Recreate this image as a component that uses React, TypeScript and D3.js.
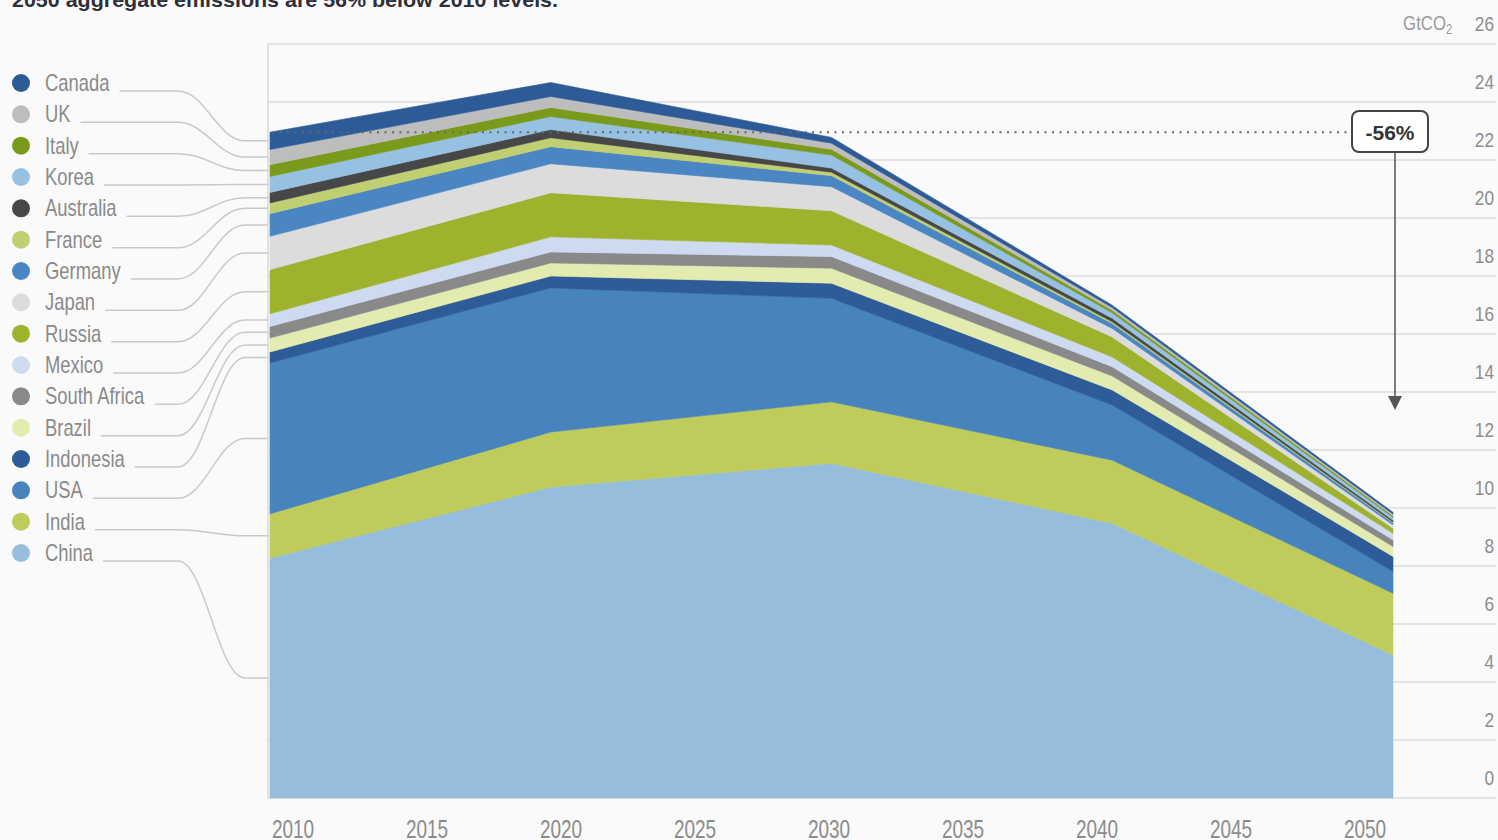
import React, { useEffect } from 'react';
import * as d3 from 'd3';

// ---------- data ----------
const years = [2010, 2020, 2030, 2040, 2050];
// stacking order: bottom -> top
const countries = ['China', 'India', 'USA', 'Indonesia', 'Brazil', 'South Africa', 'Mexico', 'Russia', 'Japan', 'Germany', 'France', 'Australia', 'Korea', 'Italy', 'UK', 'Canada'];
const china = [8.28, 10.72, 11.54, 9.47, 4.93];
const india = [1.52, 1.9, 2.12, 2.18, 2.13];
const usa = [5.2, 4.97, 3.57, 1.9, 0.75];
const indonesia = [0.38, 0.41, 0.52, 0.52, 0.52];
const brazil = [0.48, 0.45, 0.52, 0.48, 0.34];
const southAfrica = [0.4, 0.38, 0.4, 0.32, 0.23];
const mexico = [0.44, 0.52, 0.4, 0.34, 0.23];
const russia = [1.52, 1.52, 1.18, 0.69, 0.17];
const japan = [1.15, 1.0, 0.83, 0.29, 0.12];
const germany = [0.78, 0.59, 0.38, 0.17, 0.07];
const france = [0.37, 0.31, 0.12, 0.06, 0.03];
const australia = [0.36, 0.28, 0.14, 0.12, 0.06];
const korea = [0.55, 0.45, 0.45, 0.19, 0.1];
const italy = [0.41, 0.31, 0.2, 0.09, 0.05];
const uk = [0.52, 0.38, 0.21, 0.09, 0.06];
const canada = [0.6, 0.48, 0.2, 0.08, 0.06];
const colors = ['#96bddc', '#bfcc5b', '#4783bd', '#2d5c99', '#e4ebb0', '#898989', '#cddaf0', '#9fb22e', '#dcdcdc', '#4a86c3', '#bfcf72', '#474747', '#96c1e3', '#7a9a1c', '#bdbdbd', '#2c5b97'];
const yTicks = [0, 2, 4, 6, 8, 10, 12, 14, 16, 18, 20, 22, 24, 26];
const xTickYears = [2010, 2015, 2020, 2025, 2030, 2035, 2040, 2045, 2050];
const title = '2050 aggregate emissions are 56% below 2010 levels.';
const changeLabel = '-56%';

const seriesValues: Record<string, number[]> = {
  China: china, India: india, USA: usa, Indonesia: indonesia, Brazil: brazil,
  'South Africa': southAfrica, Mexico: mexico, Russia: russia, Japan: japan,
  Germany: germany, France: france, Australia: australia, Korea: korea,
  Italy: italy, UK: uk, Canada: canada,
};

const W = 1498;
const H = 840;
const FONT = '"Liberation Sans", Arial, Helvetica, sans-serif';
const LEG_SIZE = 23;
const LEG_SX = 0.8;

export default function App() {
  useEffect(() => {
    document.body.style.margin = '0';
    document.body.style.overflow = 'hidden';
  }, []);

  const rows = years.map((yr, i) => {
    const r: any = { year: yr };
    countries.forEach((c) => (r[c] = seriesValues[c][i]));
    return r;
  });
  const stacked = d3.stack<any>().keys(countries)(rows);

  const x = d3.scaleLinear().domain([2010, 2050]).range([270, 1393]);
  const xLab = d3.scaleLinear().domain([2010, 2050]).range([293, 1365]);
  const y = d3.scaleLinear().domain([0, 26]).range([798, 44]);

  const area = d3
    .area<any>()
    .x((d) => x(d.data.year))
    .y0((d) => y(d[0]))
    .y1((d) => y(d[1]))
    .curve(d3.curveLinear);

  const total2010 = d3.sum(countries, (c) => seriesValues[c][0]);
  const yRef = y(total2010);

  // text measuring for leader lines
  let ctx: CanvasRenderingContext2D | null = null;
  try {
    ctx = document.createElement('canvas').getContext('2d');
    if (ctx) ctx.font = `${LEG_SIZE}px ${FONT}`;
  } catch (e) {
    ctx = null;
  }
  const measure = (s: string) => (ctx ? ctx.measureText(s).width : s.length * LEG_SIZE * 0.5) * LEG_SX;

  const legendItems = countries
    .map((c, i) => ({ name: c, color: colors[i], layer: stacked[i] }))
    .reverse();
  const legY = d3.scaleLinear().domain([0, legendItems.length - 1]).range([83, 553]);

  return (
    <svg width={W} height={H} style={{ position: 'absolute', left: 0, top: 0, display: 'block' }}>
      <rect x={0} y={0} width={W} height={H} fill="#fafafa" />

      {/* title (cropped at top) */}
      <text x={12} y={7} fontFamily={FONT} fontWeight="bold" fontSize={21} fill="#2f2f3a" textLength={546} lengthAdjust="spacingAndGlyphs">
        {title}
      </text>

      {/* gridlines */}
      {yTicks.map((t) => (
        <line key={'g' + t} x1={268} x2={1496} y1={y(t)} y2={y(t)} stroke="#dcdcdc" strokeWidth={1.5} />
      ))}
      <line x1={268} x2={268} y1={y(26)} y2={y(0)} stroke="#d0d0d0" strokeWidth={1.2} />

      {/* stacked areas */}
      {stacked.map((layer, i) => (
        <path key={countries[i]} d={area(layer) || ''} fill={colors[i]} stroke={colors[i]} strokeWidth={0.6} />
      ))}

      {/* 2010 reference dotted line */}
      <line x1={272} x2={1352} y1={yRef} y2={yRef} stroke="#666" strokeWidth={2} strokeDasharray="2 5.5" />

      {/* arrow */}
      <line x1={1395} x2={1395} y1={152} y2={398} stroke="#555" strokeWidth={1.5} />
      <path d={`M1388,396 L1402,396 L1395,410 Z`} fill="#555" />

      {/* -56% box */}
      <rect x={1352} y={111} width={76} height={41} rx={7} ry={7} fill="#ffffff" stroke="#444" strokeWidth={2} />
      <text x={1390} y={140} textAnchor="middle" fontFamily={FONT} fontWeight="bold" fontSize={21} fill="#333">
        {changeLabel}
      </text>

      {/* unit label */}
      <g transform={`translate(1446,30) scale(0.8,1)`}>
        <text textAnchor="end" fontFamily={FONT} fontSize={21} fill="#9a9a9a">
          GtCO
        </text>
      </g>
      <g transform={`translate(1446,34) scale(0.8,1)`}>
        <text fontFamily={FONT} fontSize={14} fill="#9a9a9a">
          2
        </text>
      </g>

      {/* y tick labels */}
      {yTicks.map((t) => (
        <g key={'yl' + t} transform={`translate(1494,${y(t) - 13}) scale(0.82,1)`}>
          <text textAnchor="end" fontFamily={FONT} fontSize={21} fill="#8c8c8c">
            {t}
          </text>
        </g>
      ))}

      {/* x tick labels */}
      {xTickYears.map((yr) => (
        <g key={'xl' + yr} transform={`translate(${xLab(yr)},838) scale(0.76,1)`}>
          <text textAnchor="middle" fontFamily={FONT} fontSize={25} fill="#8c8c8c">
            {yr}
          </text>
        </g>
      ))}

      {/* legend + leader lines */}
      {legendItems.map((it, i) => {
        const ly = legY(i);
        const tw = measure(it.name);
        const x0 = 45 + tw + 10;
        const sy = ly + 8;
        const ty = y((it.layer[0][0] + it.layer[0][1]) / 2);
        const d = `M${x0},${sy} H178 C205,${sy} 218,${ty} 245,${ty} H268`;
        return (
          <g key={'leg' + it.name}>
            <path d={d} fill="none" stroke="#c9c9c9" strokeWidth={1.5} />
            <circle cx={21} cy={ly} r={9} fill={it.color} />
            <g transform={`translate(45,${ly + 8}) scale(${LEG_SX},1)`}>
              <text fontFamily={FONT} fontSize={LEG_SIZE} fill="#8a8a8a">
                {it.name}
              </text>
            </g>
          </g>
        );
      })}
    </svg>
  );
}
